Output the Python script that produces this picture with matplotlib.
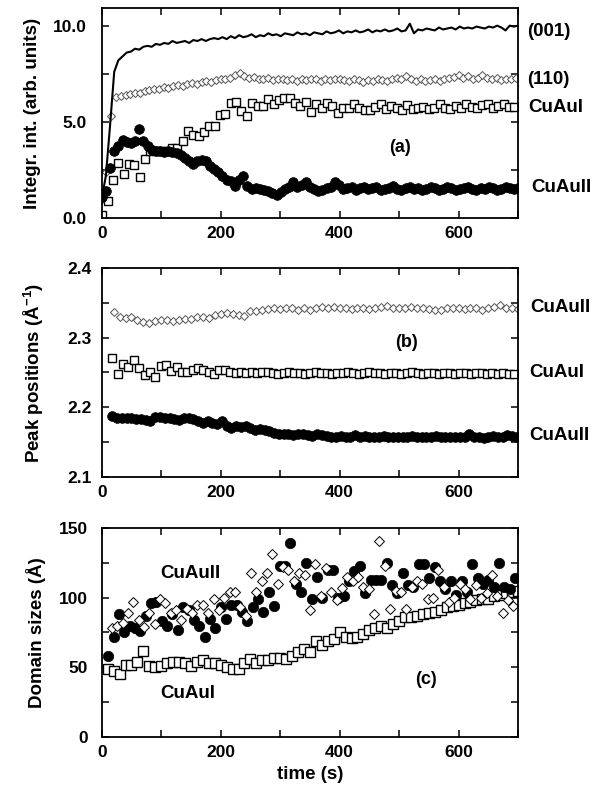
import numpy as np
import matplotlib
matplotlib.use("Agg")
import matplotlib.pyplot as plt
from matplotlib.ticker import MultipleLocator, FormatStrFormatter

plt.rcParams['font.family'] = ['Liberation Sans', 'DejaVu Sans']
plt.rcParams['font.weight'] = 'bold'
plt.rcParams['mathtext.fontset'] = 'custom'
plt.rcParams['mathtext.bf'] = 'Liberation Sans:bold'
plt.rcParams['mathtext.rm'] = 'Liberation Sans:bold'
plt.rcParams['mathtext.default'] = 'bf'

# ---- panel (a): integrated intensities ----
t_001 = np.arange(0, 701, 7)
int_001 = [1.0, 2.2, 4.8, 7.6, 8.2, 8.4, 8.6, 8.65, 8.8, 8.75,
           8.9, 8.95, 8.9, 9.05, 9.0, 9.1, 9.05, 9.2, 9.1, 9.15,
           9.2, 9.1, 9.25, 9.2, 9.3, 9.2, 9.3, 9.35, 9.3, 9.4,
           9.3, 9.45, 9.35, 9.5, 9.4, 9.45, 9.55, 9.4, 9.5, 9.45,
           9.6, 9.5, 9.55, 9.45, 9.6, 9.55, 9.5, 9.65, 9.55, 9.6,
           9.5, 9.65, 9.6, 9.55, 9.7, 9.6, 9.65, 9.75, 9.6, 9.7,
           9.65, 9.75, 9.65, 9.7, 9.8, 9.65, 9.75, 9.7, 9.8, 9.7,
           9.75, 9.85, 9.7, 9.75, 10.1, 9.6, 9.8, 9.75, 9.85, 9.8,
           9.75, 9.9, 9.8, 9.85, 9.9, 9.8, 9.95, 9.85, 9.9, 9.85,
           9.95, 9.9, 9.85, 9.95, 9.9, 10.0, 9.9, 9.75, 10.0, 9.95,
           10.0]

t_110 = np.arange(0, 700, 8)
int_110 = [1.0, 2.4, 5.3, 6.3, 6.35, 6.4, 6.45, 6.5, 6.5, 6.6,
           6.65, 6.7, 6.7, 6.8, 6.75, 6.85, 6.9, 6.85, 6.95, 7.0,
           6.95, 7.05, 7.1, 7.05, 7.15, 7.2, 7.25, 7.3, 7.45, 7.55,
           7.4, 7.3, 7.35, 7.25, 7.2, 7.3, 7.15, 7.2, 7.25, 7.15,
           7.2, 7.1, 7.2, 7.15, 7.25, 7.2, 7.1, 7.2, 7.15, 7.25,
           7.2, 7.15, 7.1, 7.2, 7.15, 7.05, 7.15, 7.1, 7.2, 7.15,
           7.1, 7.2, 7.3, 7.2, 7.4, 7.25, 7.1, 7.2, 7.1, 7.15,
           7.25, 7.1, 7.2, 7.3, 7.35, 7.45, 7.3, 7.4, 7.25, 7.3,
           7.45, 7.3, 7.2, 7.3, 7.15, 7.25, 7.2, 7.3]

t_cuaui_a = np.arange(1, 701, 9)
int_cuaui = [0.15, 0.9, 2.0, 2.85, 2.3, 2.8, 2.75, 2.15, 3.05, 3.5,
             3.5, 3.5, 3.5, 3.65, 3.65, 4.0, 4.5, 4.3, 4.25, 4.45,
             4.8, 4.8, 5.35, 5.4, 6.0, 6.05, 5.55, 5.3, 6.0, 5.8,
             5.8, 6.2, 5.9, 6.15, 6.25, 6.25, 6.0, 5.8, 6.05, 5.5,
             5.9, 5.7, 6.0, 5.8, 5.45, 5.7, 5.7, 5.95, 5.7, 5.6,
             5.6, 5.75, 5.9, 5.65, 5.8, 5.7, 5.6, 5.85, 5.65, 5.7,
             5.75, 5.65, 5.7, 5.9, 5.7, 5.65, 5.8, 5.7, 5.9, 5.75,
             5.7, 5.85, 5.95, 5.7, 5.8, 5.9, 5.75, 5.75]

t_cuauii_a = np.arange(0, 701, 7)
int_cuauii = [1.1, 1.4, 2.6, 3.5, 3.75, 4.05, 3.95, 3.9, 4.0, 4.65,
              4.0, 3.75, 3.55, 3.5, 3.5, 3.45, 3.5, 3.45, 3.4, 3.3,
              3.1, 2.95, 2.8, 2.95, 3.0, 2.95, 2.7, 2.55, 2.4, 2.2,
              2.0, 1.9, 1.65, 2.0, 2.2, 1.65, 1.5, 1.55, 1.5, 1.45,
              1.4, 1.3, 1.2, 1.35, 1.5, 1.6, 1.85, 1.6, 1.7, 1.85,
              1.6, 1.5, 1.4, 1.45, 1.55, 1.6, 1.85, 1.7, 1.5, 1.55,
              1.6, 1.45, 1.55, 1.6, 1.5, 1.55, 1.6, 1.45, 1.5, 1.55,
              1.65, 1.5, 1.45, 1.55, 1.6, 1.5, 1.55, 1.45, 1.5, 1.6,
              1.55, 1.45, 1.5, 1.6, 1.55, 1.45, 1.5, 1.55, 1.6, 1.5,
              1.45, 1.55, 1.5, 1.6, 1.55, 1.45, 1.5, 1.6, 1.55, 1.5,
              1.55]

# ---- panel (b): peak positions ----
t_pos_110 = np.arange(20, 701, 10)
pos_110 = [2.337, 2.329, 2.328, 2.329, 2.326, 2.322, 2.321, 2.324, 2.326, 2.326,
           2.324, 2.325, 2.327, 2.327, 2.330, 2.330, 2.328, 2.332, 2.334, 2.336,
           2.334, 2.333, 2.331, 2.338, 2.338, 2.340, 2.341, 2.342, 2.341, 2.343,
           2.342, 2.340, 2.342, 2.339, 2.343, 2.344, 2.342, 2.344, 2.343, 2.342,
           2.341, 2.343, 2.342, 2.341, 2.343, 2.344, 2.346, 2.343, 2.342, 2.343,
           2.344, 2.342, 2.343, 2.341, 2.339, 2.340, 2.342, 2.343, 2.342, 2.341,
           2.343, 2.342, 2.340, 2.343, 2.344, 2.347, 2.343, 2.342, 2.341]

t_pos_cuaui = np.arange(18, 701, 9)
pos_cuaui = [2.271, 2.248, 2.262, 2.258, 2.268, 2.257, 2.246, 2.251, 2.244, 2.259,
             2.261, 2.252, 2.258, 2.251, 2.250, 2.254, 2.256, 2.254, 2.251, 2.248,
             2.253, 2.254, 2.250, 2.249, 2.250, 2.249, 2.250, 2.249, 2.251, 2.250,
             2.249, 2.248, 2.249, 2.250, 2.249, 2.249, 2.248, 2.249, 2.250, 2.249,
             2.249, 2.248, 2.249, 2.249, 2.250, 2.249, 2.248, 2.249, 2.250, 2.249,
             2.249, 2.248, 2.249, 2.249, 2.248, 2.249, 2.250, 2.249, 2.248, 2.249,
             2.249, 2.248, 2.249, 2.249, 2.248, 2.249, 2.249, 2.248, 2.249, 2.249,
             2.248, 2.249, 2.248, 2.249, 2.248, 2.248]

t_pos_cuauii = np.arange(18, 701, 8)
pos_cuauii = [2.188, 2.185, 2.184, 2.185, 2.185, 2.183, 2.183, 2.182, 2.181, 2.186,
              2.186, 2.184, 2.185, 2.183, 2.182, 2.184, 2.185, 2.183, 2.180, 2.177,
              2.180, 2.177, 2.176, 2.181, 2.173, 2.171, 2.173, 2.172, 2.173, 2.171,
              2.168, 2.169, 2.167, 2.166, 2.163, 2.161, 2.162, 2.161, 2.160, 2.162,
              2.161, 2.160, 2.159, 2.161, 2.160, 2.159, 2.158, 2.157, 2.159, 2.158,
              2.158, 2.160, 2.158, 2.159, 2.158, 2.157, 2.158, 2.159, 2.158, 2.158,
              2.157, 2.158, 2.158, 2.159, 2.158, 2.157, 2.158, 2.158, 2.159, 2.158,
              2.157, 2.158, 2.158, 2.157, 2.158, 2.161, 2.158, 2.157, 2.156, 2.158,
              2.159, 2.158, 2.157, 2.160, 2.159, 2.157]

# ---- panel (c): domain sizes ----
t_dom_cuaui = np.arange(10, 701, 10)
dom_cuaui = [48.5, 47, 45, 51.5, 52, 54, 62, 51, 50.5, 51,
             53, 54, 54, 53, 51, 54, 55, 53, 53, 52,
             50, 49, 49, 53, 56, 53, 55, 55, 57, 57,
             56, 58, 61, 63, 61, 69, 66, 69, 70, 75,
             72, 71, 72, 74, 77, 78, 80, 78, 81, 83,
             86, 86, 87, 88, 89, 90, 91, 93, 94, 95,
             96, 97, 98, 99, 99, 101, 102, 103, 104, 105]

t_dom_cuauii = np.arange(11, 700, 9)
dom_cuauii = [58, 72, 88, 75, 80, 78, 76, 87, 96, 97,
              83, 80, 88, 77, 93, 91, 84, 80, 72, 85,
              78, 93, 85, 95, 95, 90, 83, 93, 99, 90,
              104, 94, 123, 123, 139, 110, 104, 125, 99, 115,
              100, 120, 120, 100, 101, 112, 119, 123, 103, 113,
              113, 113, 125, 109, 103, 118, 109, 108, 124, 124,
              114, 122, 112, 106, 112, 102, 112, 104, 124, 114,
              110, 113, 108, 125, 108, 106, 114]

t_dom_110 = np.arange(17, 700, 9)
dom_110 = [78, 80, 82, 89, 97, 84, 79, 89, 81, 99,
           96, 89, 91, 84, 92, 89, 95, 95, 89, 99,
           91, 100, 104, 104, 93, 87, 118, 104, 112, 118,
           131, 110, 122, 120, 112, 118, 116, 91, 124, 101,
           121, 104, 98, 107, 115, 112, 115, 108, 106, 88,
           141, 123, 92, 105, 104, 92, 108, 112, 110, 99,
           100, 120, 108, 97, 100, 110, 106, 99, 109, 100,
           103, 116, 101, 89, 98, 94]

fig = plt.figure(figsize=(6.03, 7.91), dpi=100)
ax_a = fig.add_axes([0.1687, 0.7244, 0.6904, 0.2651])
ax_b = fig.add_axes([0.1687, 0.3970, 0.6904, 0.2642])
ax_c = fig.add_axes([0.1687, 0.0683, 0.6904, 0.2642])

circ = dict(marker='o', ls='none', ms=7, mfc='black', mec='black', mew=0.5)
sq = dict(marker='s', ls='none', ms=6, mfc='white', mec='black', mew=1.0)
dia = dict(marker='D', ls='none', ms=4.3, mfc='white', mec='#555555', mew=0.7)

LBL = 13.5

# (a)
ax_a.plot(t_cuaui_a, int_cuaui, **sq)
ax_a.plot(t_110, int_110, **dia)
ax_a.plot(t_cuauii_a, int_cuauii, **circ)
ax_a.plot(t_001, int_001, color='black', lw=1.5)
ax_a.set_ylim(0, 10.9)
ax_a.yaxis.set_major_locator(MultipleLocator(5))
ax_a.yaxis.set_minor_locator(MultipleLocator(2.5))
ax_a.yaxis.set_major_formatter(FormatStrFormatter('%.1f'))
ax_a.set_ylabel('Integr. int. (arb. units)', fontsize=LBL, fontweight='bold')
ax_a.yaxis.set_label_coords(-0.146, 0.5)

# (b)
ax_b.plot(t_pos_cuaui, pos_cuaui, **sq)
ax_b.plot(t_pos_110, pos_110, **dia)
ax_b.plot(t_pos_cuauii, pos_cuauii, **circ)
ax_b.set_ylim(2.1, 2.4)
ax_b.yaxis.set_major_locator(MultipleLocator(0.1))
ax_b.yaxis.set_minor_locator(MultipleLocator(0.05))
ax_b.yaxis.set_major_formatter(FormatStrFormatter('%.1f'))
ax_b.set_ylabel('Peak positions (Å$^{-1}$)', fontsize=LBL, fontweight='bold')
ax_b.yaxis.set_label_coords(-0.134, 0.5)

# (c)
dia_c = dict(dia, mec='black', ms=4.6)
ax_c.plot(t_dom_cuaui, dom_cuaui, **dict(sq, ms=6.5))
ax_c.plot(t_dom_cuauii, dom_cuauii, **dict(circ, ms=7.5))
ax_c.plot(t_dom_110, dom_110, **dia_c)
ax_c.set_ylim(0, 150)
ax_c.yaxis.set_major_locator(MultipleLocator(50))
ax_c.yaxis.set_minor_locator(MultipleLocator(25))
ax_c.set_ylabel('Domain sizes (Å)', fontsize=LBL, fontweight='bold')
ax_c.yaxis.set_label_coords(-0.134, 0.5)
ax_c.set_xlabel('time (s)', fontsize=LBL, fontweight='bold', labelpad=4)

ypads = {ax_a: 11, ax_b: 7, ax_c: 10}
for ax in (ax_a, ax_b, ax_c):
    ax.set_xlim(0, 700)
    ax.xaxis.set_major_locator(MultipleLocator(200))
    ax.xaxis.set_minor_locator(MultipleLocator(100))
    ax.tick_params(which='both', direction='in', top=True, right=True,
                   length=5, width=1.1, labelsize=12.5)
    ax.tick_params(axis='y', pad=ypads[ax])
    ax.tick_params(axis='x', pad=6)
    for lab in ax.get_xticklabels() + ax.get_yticklabels():
        lab.set_fontweight('bold')
    for sp in ax.spines.values():
        sp.set_linewidth(1.3)

# side labels
lab_kw = dict(fontsize=LBL, fontweight='bold', va='center', ha='left')
fig.text(527 / 603, 1 - 32 / 791, '(001)', **lab_kw)
fig.text(527 / 603, 1 - 80 / 791, '(110)', **lab_kw)
fig.text(528 / 603, 1 - 108 / 791, 'CuAuI', **lab_kw)
fig.text(400 / 603, 1 - 147 / 791, '(a)', fontsize=13, fontweight='bold', ha='center', va='center')
fig.text(531 / 603, 1 - 188 / 791, 'CuAuII', **lab_kw)

fig.text(530 / 603, 1 - 308 / 791, 'CuAuII', **lab_kw)
fig.text(407 / 603, 1 - 342 / 791, '(b)', fontsize=13, fontweight='bold', ha='center', va='center')
fig.text(529 / 603, 1 - 373 / 791, 'CuAuI', **lab_kw)
fig.text(529 / 603, 1 - 435 / 791, 'CuAuII', **lab_kw)

fig.text(160 / 603, 1 - 573 / 791, 'CuAuII', **lab_kw)
fig.text(160 / 603, 1 - 693 / 791, 'CuAuI', **lab_kw)
fig.text(426 / 603, 1 - 680 / 791, '(c)', fontsize=13, fontweight='bold', ha='center', va='center')

fig.savefig('out.png', dpi=100)
